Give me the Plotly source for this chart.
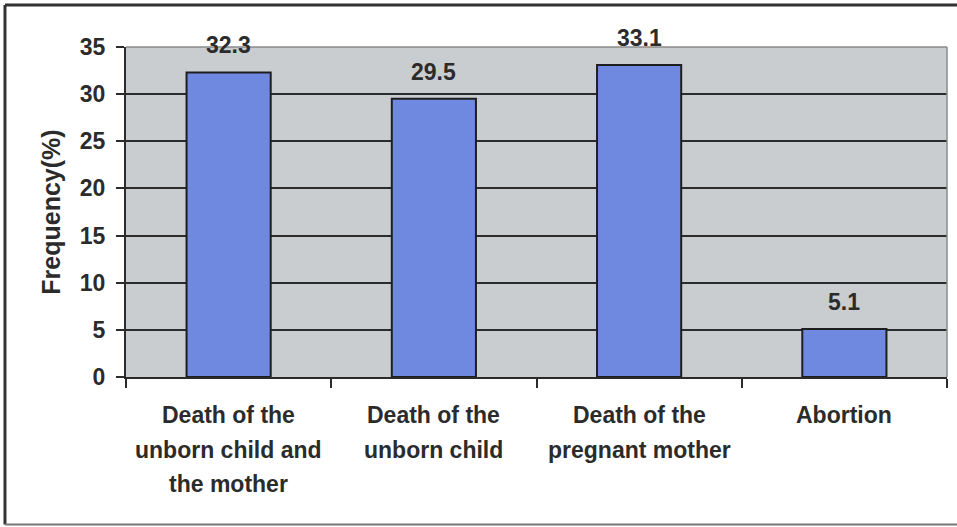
import plotly.graph_objects as go

# données
categories = ["Death of the<br>unborn child and<br>the mother",
              "Death of the<br>unborn child",
              "Death of the<br>pregnant mother",
              "Abortion"]
frequency = [32.3, 29.5, 33.1, 5.1]
y_ticks = [0, 5, 10, 15, 20, 25, 30, 35]

FONT = "Liberation Sans, Arial, sans-serif"
DARK = "#2b2b2b"

fig = go.Figure()
fig.add_trace(go.Bar(x=list(range(len(categories))),
                     y=frequency,
                     width=0.41,
                     marker=dict(color="#7089e0", line=dict(color="#1e1e1e", width=2)),
                     hoverinfo="skip"))

# étiquettes de valeur au-dessus des barres
for i, v in enumerate(frequency):
    fig.add_annotation(x=i, y=v, text=str(v), showarrow=False,
                       yanchor="bottom", yshift=12,
                       font=dict(family=FONT, size=23, color=DARK, weight="bold"))

# libellés des catégories, une ligne par annotation pour l'interligne
for i, label in enumerate(categories):
    for j, line in enumerate(label.split("<br>")):
        fig.add_annotation(x=i, y=0, text=line, showarrow=False,
                           yanchor="middle", yshift=-(38 + j * 34.5),
                           font=dict(family=FONT, size=23, color=DARK, weight="bold"))

# bordure grise du cadre de tracé (haut et droite)
fig.add_shape(type="line", xref="paper", yref="paper", x0=0, x1=1, y0=1, y1=1,
              line=dict(color="#8a8a8a", width=1.5), layer="above")
fig.add_shape(type="line", xref="paper", yref="paper", x0=1, x1=1, y0=0, y1=1,
              line=dict(color="#8a8a8a", width=1.5), layer="above")
# cadre extérieur de l'image : gauche, haut, bas (bord droit hors champ)
frame = dict(color="#333333", width=3)
fig.add_shape(type="line", xref="paper", yref="paper", x0=-0.1474, x1=-0.1474,
              y0=-0.447, y1=1.127, line=frame)
fig.add_shape(type="line", xref="paper", yref="paper", x0=-0.1474, x1=1.1,
              y0=1.127, y1=1.127, line=frame)
fig.add_shape(type="line", xref="paper", yref="paper", x0=-0.1474, x1=1.1,
              y0=-0.447, y1=-0.447, line=dict(color="#777777", width=2))

fig.update_layout(
    width=957, height=527,
    margin=dict(l=126, r=10, t=47, b=150),
    plot_bgcolor="#cacdd0",
    paper_bgcolor="white",
    showlegend=False,
    font=dict(family=FONT, color=DARK),
)
# graduations aux limites entre catégories
bounds = [i - 0.5 for i in range(len(categories) + 1)]
fig.update_xaxes(range=[-0.5, len(categories) - 0.5],
                 tickvals=bounds, ticktext=[""] * len(bounds),
                 ticks="outside", ticklen=9,
                 tickcolor=DARK, tickwidth=1.5,
                 showline=True, linecolor=DARK, linewidth=2,
                 showgrid=False, zeroline=False)
fig.update_yaxes(range=[0, 35], tickvals=y_ticks,
                 ticks="outside", ticklen=8, tickcolor=DARK, tickwidth=1.5,
                 tickfont=dict(family=FONT, size=23, color=DARK, weight="bold"),
                 ticklabelstandoff=6,
                 showline=True, linecolor=DARK, linewidth=2,
                 showgrid=True, gridcolor="#2b2b2b", gridwidth=1.5,
                 zeroline=False,
                 title=dict(text="<b>Frequency(%)</b>", standoff=12,
                            font=dict(family=FONT, size=25, color=DARK)))

fig.write_html("out.html", config={"displayModeBar": False},
               post_script="document.body.style.margin='0';")
